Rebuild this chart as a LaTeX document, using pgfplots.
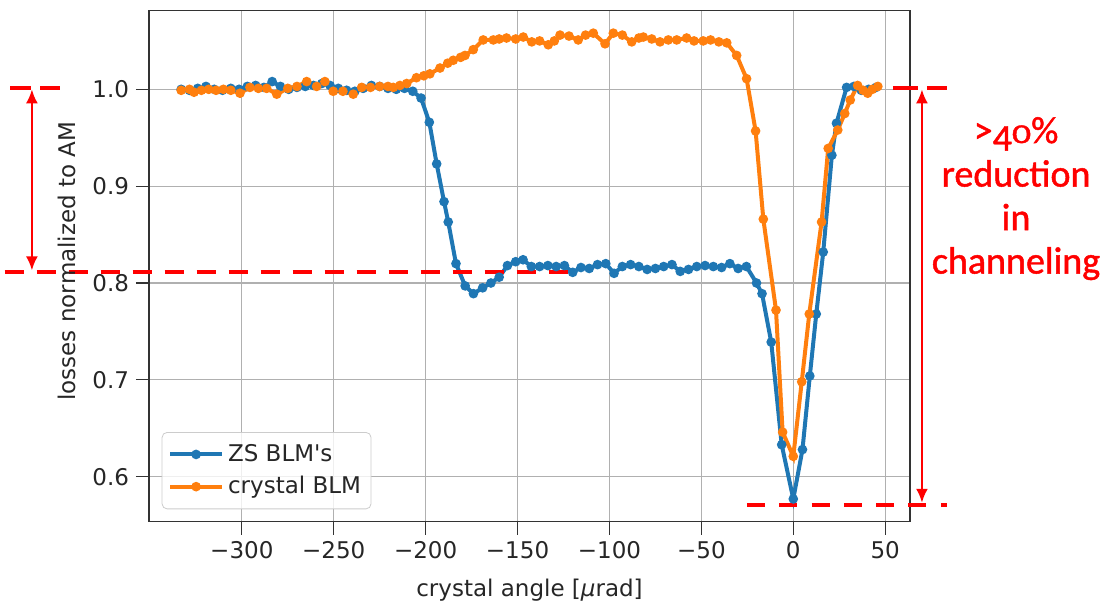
\documentclass[border=0pt]{standalone}
\usepackage{pgfplots}
\pgfplotsset{compat=1.18}
\usetikzlibrary{arrows.meta}
\usepackage{fontspec}
\setmainfont{DejaVu Sans}
\newfontfamily\annfont[FakeBold=1.2]{Carlito}

\definecolor{mplblue}{HTML}{1F77B4}
\definecolor{mplorange}{HTML}{FF7F0E}
\definecolor{gridgray}{HTML}{B0B0B0}
\definecolor{legendedge}{HTML}{CCCCCC}

% ZS BLM's (normalized losses)
\pgfplotstableread{
x y
-333 1.000
-328.5 0.999
-324 1.001
-319.5 1.003
-315 1.000
-310.5 0.999
-306 1.001
-301.5 1.000
-297 1.003
-292.5 1.004
-288 1.002
-283.5 1.008
-279 1.003
-274.5 1.000
-270 1.002
-265.5 1.003
-261 1.004
-256.5 1.006
-252 1.004
-247.5 1.001
-243 0.999
-238.5 0.998
-234 1.001
-229.5 1.004
-225 1.003
-220.5 1.001
-216 1.000
-211.5 1.001
-207 0.998
-202.5 0.991
-198 0.966
-194 0.923
-190 0.884
-187.7 0.863
-183.5 0.820
-178.5 0.797
-174 0.789
-169 0.795
-164.5 0.800
-160 0.806
-155.5 0.818
-151 0.822
-147 0.824
-142.5 0.817
-138 0.817
-133.5 0.818
-129 0.817
-124.5 0.818
-120 0.811
-115.5 0.816
-111 0.815
-106.5 0.819
-102 0.820
-97.5 0.810
-93 0.817
-88.5 0.819
-84 0.817
-79.5 0.814
-75 0.815
-70.5 0.817
-66 0.819
-61.5 0.812
-57 0.814
-52.5 0.817
-48 0.818
-43.5 0.817
-39 0.816
-34.5 0.820
-30 0.815
-25.5 0.817
-20 0.800
-17 0.789
-12 0.739
-6.3 0.633
0 0.577
5 0.628
9 0.704
12.5 0.768
16.3 0.832
21 0.932
23.5 0.965
29 1.002
33 1.003
37 0.999
41 1.000
45 1.002
}\zsblm

% crystal BLM
\pgfplotstableread{
x y
-333 0.999
-328.5 1.000
-326 0.997
-322 0.999
-318 1.000
-314 0.999
-310 1.000
-306 0.999
-301 0.996
-295.6 1.002
-291 1.001
-286.5 1.001
-281 0.995
-275 1.001
-270 1.003
-264.7 1.008
-259.3 1.003
-254.8 1.008
-250.3 0.998
-245 0.998
-239.4 0.995
-234.8 1.002
-230 1.002
-225 1.003
-220.5 1.003
-217.6 1.002
-214 1.004
-210.3 1.006
-205 1.012
-201 1.014
-197.7 1.016
-192.2 1.022
-188 1.027
-185 1.030
-181 1.033
-178.6 1.035
-174.1 1.041
-168.7 1.051
-163.2 1.051
-160 1.052
-156 1.053
-151 1.052
-146.9 1.054
-142.3 1.049
-138 1.050
-133.3 1.046
-130 1.050
-126.9 1.056
-122 1.055
-117 1.051
-113 1.056
-108.8 1.058
-102.4 1.047
-97.9 1.058
-93 1.056
-87.9 1.049
-84 1.053
-81.6 1.054
-77 1.052
-72.5 1.049
-68 1.051
-63.4 1.051
-58 1.053
-54 1.050
-49 1.050
-45 1.051
-40.5 1.049
-36.2 1.048
-30.8 1.035
-25.4 1.011
-20.5 0.957
-16.3 0.866
-9.4 0.772
-5.8 0.646
0 0.621
4.6 0.698
8.7 0.768
15.4 0.863
19 0.939
24.2 0.958
28 0.975
31 0.989
35 1.004
38 0.999
40.5 0.996
43 1.000
46 1.003
}\crystalblm

\begin{document}
\begin{tikzpicture}
\begin{axis}[
  width=380.5bp, height=255.5bp, scale only axis,
  xmin=-350.5, xmax=63.5, ymin=0.5535, ymax=1.0812,
  xtick={-300,-250,-200,-150,-100,-50,0,50},
  xticklabels={−300,−250,−200,−150,−100,−50,0,50},
  ytick={0.6,0.7,0.8,0.9,1.0},
  yticklabels={0.6,0.7,0.8,0.9,1.0},
  tick pos=left, tick align=outside, major tick length=6.5bp,
  grid=major, major grid style={gridgray, line width=0.65bp},
  axis line style={black!80, line width=0.65bp},
  tick style={black!80, line width=0.65bp},
  tick label style={font=\fontsize{11.5bp}{13.8bp}\selectfont, text=black!85},
  label style={font=\fontsize{11.5bp}{13.8bp}\selectfont, text=black!85},
  xlabel={crystal angle [\textit{μ}rad]},
  ylabel={losses normalized to AM},
  xlabel style={at={(axis description cs:0.5,-0.1455)}, anchor=base},
  ylabel style={at={(axis description cs:-0.0972,0.51)}, anchor=base},
  clip=false,
  legend style={at={(rel axis cs:0.0167,0.0243)}, anchor=south west,
    draw=legendedge, rounded corners=2.5bp, fill=white, fill opacity=0.8, text opacity=1,
    font=\fontsize{11.5bp}{13.8bp}\selectfont, text=black!85,
    inner xsep=3bp, inner ysep=4bp, row sep=2bp},
  legend cell align=left,
  legend image code/.code={%
    \draw[mark repeat=2, mark phase=2] plot coordinates {(0bp,0bp) (13bp,0bp) (26bp,0bp)};},
]
\addplot[mplblue, line width=2bp, mark=*, mark size=1.35bp] table {\zsblm};
\addlegendentry{ZS BLM\textquotesingle s}
\addplot[mplorange, line width=2bp, mark=*, mark size=1.35bp] table {\crystalblm};
\addlegendentry{crystal BLM}

% red annotations
\draw[red, line width=2bp, dash pattern=on 10.5bp off 4.5bp] (axis cs:-426,1.001) -- (axis cs:-399,1.001);
\draw[red, line width=2bp, dash pattern=on 9.5bp off 6.5bp] (axis cs:-429,0.8117) -- (axis cs:-119,0.8117);
\draw[red, line width=1.2bp, {Latex[length=7bp,width=6bp]}-{Latex[length=7bp,width=6bp]}] (axis cs:-414.2,1.0) -- (axis cs:-414.2,0.813);
\draw[red, line width=2bp, dash pattern=on 12.5bp off 4.5bp] (axis cs:54.2,1.001) -- (axis cs:83.6,1.001);
\draw[red, line width=2bp, dash pattern=on 9bp off 7.15bp] (axis cs:-25.2,0.5708) -- (axis cs:83.6,0.5708);
\draw[red, line width=1.2bp, {Latex[length=7bp,width=6bp]}-{Latex[length=7bp,width=6bp]}] (axis cs:70,1.0) -- (axis cs:70,0.573);
\node[anchor=north, inner sep=0pt, align=center, text=red,
  font=\annfont\fontsize{19bp}{21.75bp}\selectfont]
  at (axis cs:121.2,0.9717) {>\raisebox{-0.2em}{4}\scalebox{1}[0.72]{0}\%\\reduction\\in\\channeling};

% page frame in the reference's proportions
\path (rel axis cs:0,0) ++(-74.5bp,-40.65bp) rectangle ++(553.5bp,301.5bp);
\end{axis}
\end{tikzpicture}
\end{document}
